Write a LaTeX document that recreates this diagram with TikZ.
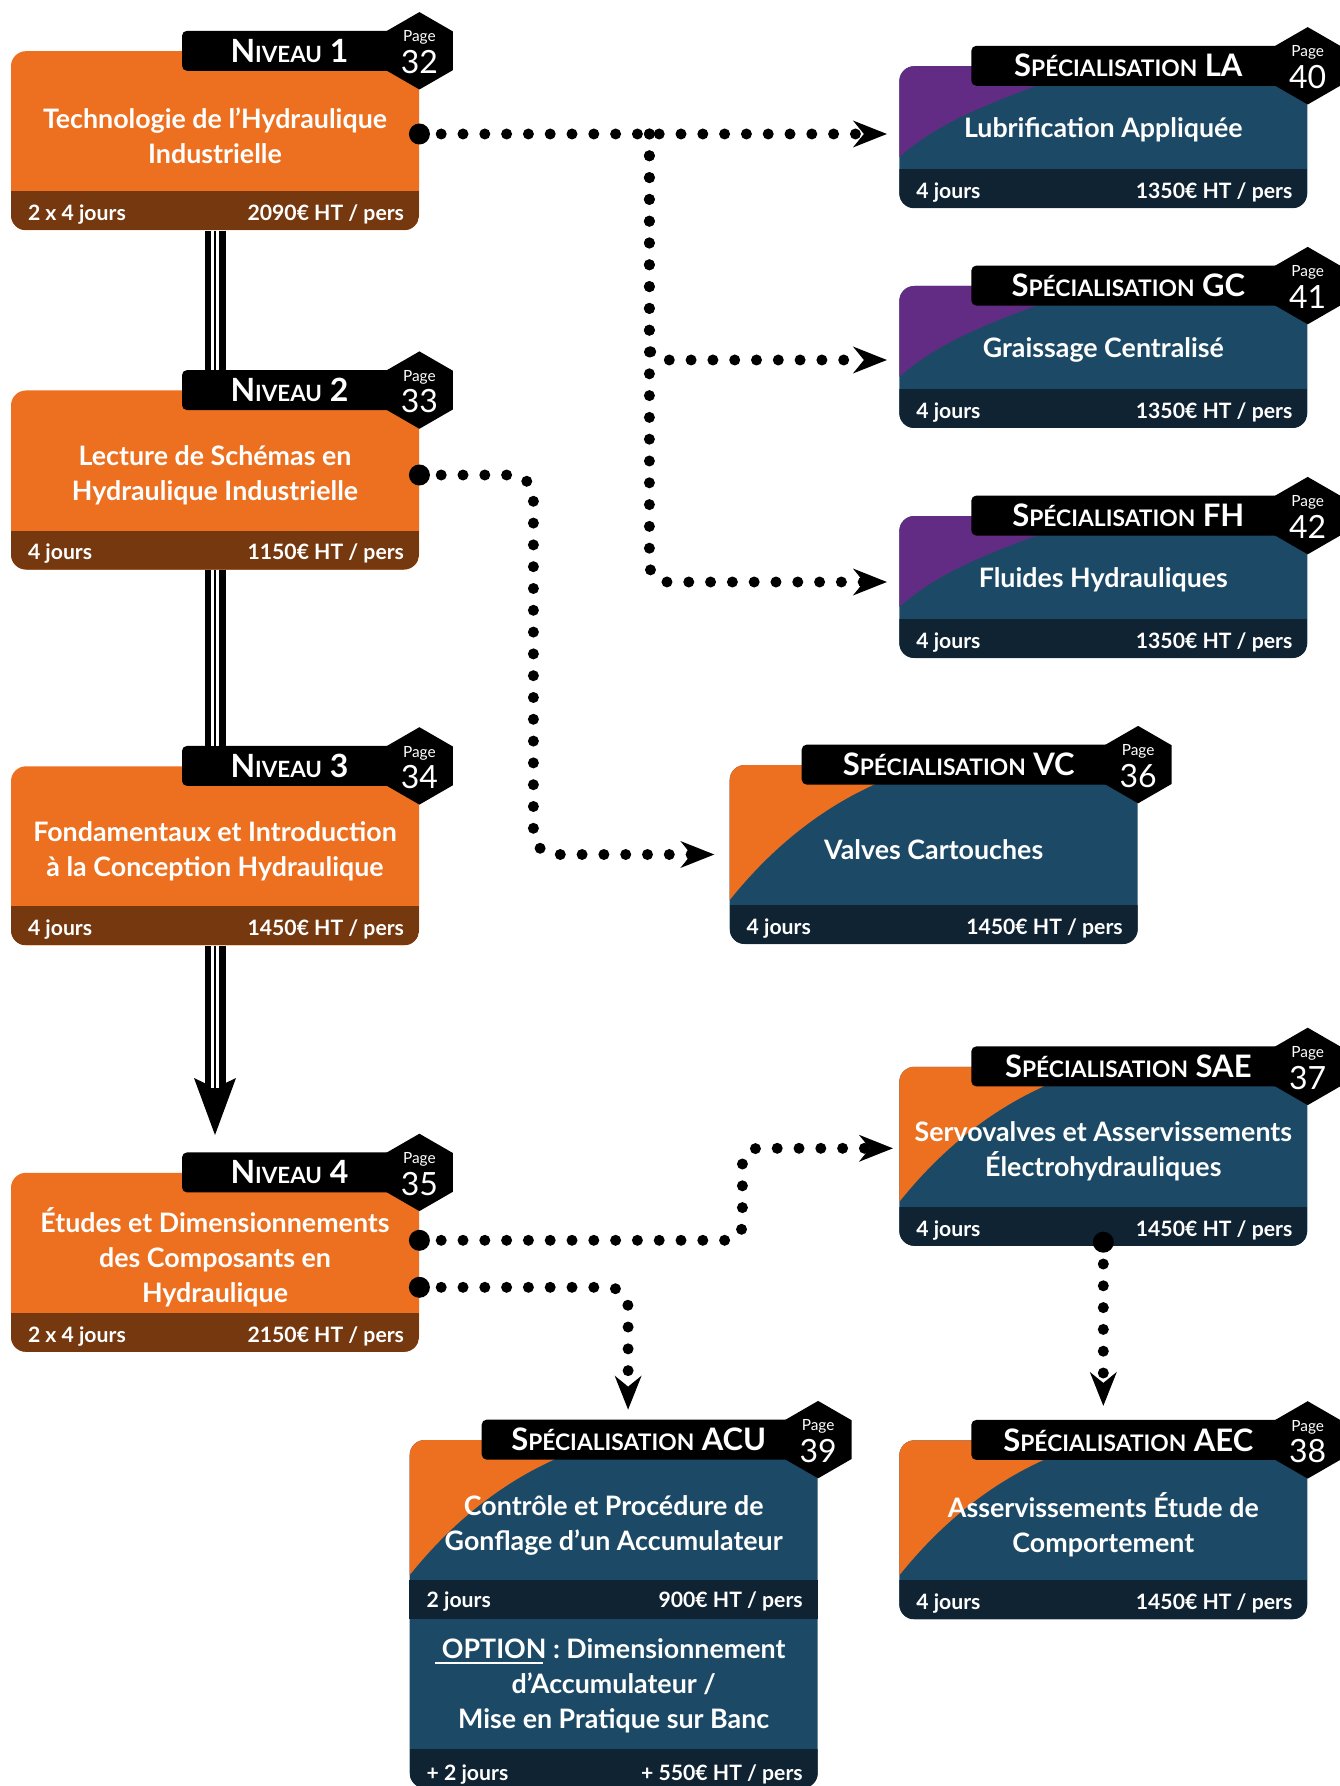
\documentclass[tikz,border=0pt]{standalone}
\usepackage{fontspec}
\setmainfont{Lato}
\usetikzlibrary{shapes.geometric, arrows.meta, positioning, calc}
\definecolor{niveauOrange}{RGB}{236,112,31}
\definecolor{niveauBrown}{RGB}{117,56,15}
\definecolor{specBlue}{RGB}{28,74,102}
\definecolor{specDark}{RGB}{16,35,50}
\definecolor{specPurple}{RGB}{98,44,132}
\newcommand{\petitcap}[2][11.2pt]{{\fontsize{#1}{#1}\selectfont #2}}

\begin{document}
\begin{tikzpicture}[
    x=0.5pt, y=-0.5pt,
    card/.style={rectangle, rounded corners=7.5pt, minimum width=204pt, minimum height=89.5pt, inner sep=0pt},
    niveau/.style={card, fill=niveauOrange,
        path picture={\fill[niveauBrown, sharp corners] (path picture bounding box.south west) rectangle ([yshift=19.5pt]path picture bounding box.south east);}},
    spec/.style={card, fill=specBlue,
        path picture={
            \fill[#1, sharp corners] ([yshift=-67.5pt]path picture bounding box.north west)
                .. controls ([shift={(30pt,-30pt)}]path picture bounding box.north west) and ([shift={(65pt,-9pt)}]path picture bounding box.north west)
                .. ([xshift=100pt]path picture bounding box.north west) -- (path picture bounding box.north west) -- cycle;
            \fill[specDark, sharp corners] (path picture bounding box.south west) rectangle ([yshift=19.5pt]path picture bounding box.south east);}},
    specshort/.style={card, fill=specBlue, minimum height=71pt,
        path picture={
            \fill[#1, sharp corners] ([yshift=-45.5pt]path picture bounding box.north west)
                .. controls ([shift={(22.5pt,-25pt)}]path picture bounding box.north west) and ([shift={(55pt,-15pt)}]path picture bounding box.north west)
                .. ([xshift=95pt]path picture bounding box.north west) -- (path picture bounding box.north west) -- cycle;
            \fill[specDark, sharp corners] (path picture bounding box.south west) rectangle ([yshift=19.5pt]path picture bounding box.south east);}},
    tab/.style={fill=black, rounded corners=2.5pt, minimum height=20pt, inner sep=0pt, anchor=west, text=white, font=\bfseries\fontsize{16pt}{16pt}\selectfont},
    niveautab/.style={tab, minimum width=107.5pt},
    spectab/.style={tab, minimum width=157pt, font=\bfseries\fontsize{15.5pt}{15.5pt}\selectfont},
    badge/.style={regular polygon, regular polygon sides=6, shape border rotate=30, minimum size=38.7pt, fill=black, inner sep=0pt, text=white, font=\fontsize{16pt}{16pt}\selectfont, text height=22.6pt, text depth=0pt, label={[pagelabel, label distance=-15.35pt]90:Page}},
    pagelabel/.style={text=white, font=\fontsize{7.7pt}{7.7pt}\selectfont, text depth=0pt, inner sep=0pt},
    title/.style={text=white, font=\bfseries\fontsize{13.4pt}{17.5pt}\selectfont, align=center, inner sep=0pt},
    strip/.style={text=white, font=\bfseries\fontsize{10.6pt}{10.6pt}\selectfont, inner sep=0pt},
    bigdot/.style={circle, fill=black, minimum size=10.5pt, inner sep=0pt},
    dotline/.style={line width=5.5pt, line cap=round, dash pattern=on 0pt off 10.9pt, -{Stealth[length=17pt, width=13.5pt, inset=5.5pt, line width=0pt]}},
    chain/.style={line width=10.5pt, postaction={draw, white, line width=4.2pt, -, shorten >=#1}, postaction={draw, black, line width=1.35pt, -, shorten >=#1}},
    chain/.default=0pt
]
\useasboundingbox (0,0) rectangle (1339,1786);
\fill[white] (0,0) rectangle (1339,1786);

% Niveaux
\node[niveau] (niv1) at (215,140.7) {};
\node[niveau] (niv2) at (215,480) {};
\node[niveau] (niv3) at (215,855.8) {};
\node[niveau] (niv4) at (215,1262.3) {};

% Specialisations
\node[specshort=specPurple] (la) at (1103.3,137.2) {};
\node[specshort=specPurple] (gc) at (1103.3,357) {};
\node[specshort=specPurple] (fh) at (1103.3,587) {};
\node[spec=niveauOrange] (vc) at (933.7,854.5) {};
\node[spec=niveauOrange] (sae) at (1103.3,1156.3) {};
\node[spec=niveauOrange] (aec) at (1103.3,1529.8) {};
\node[spec=niveauOrange, minimum height=174pt] (acu) at (613.7,1614) {};
\fill[specDark] ([yshift=-70pt]acu.north west) rectangle ([yshift=-89.5pt]acu.north east);

% Tabs and page badges
\node[niveautab] (niv1tab) at ([xshift=85.5pt]niv1.north west) {N\petitcap{IVEAU} 1};
\node[niveautab] (niv2tab) at ([xshift=85.5pt]niv2.north west) {N\petitcap{IVEAU} 2};
\node[niveautab] (niv3tab) at ([xshift=85.5pt]niv3.north west) {N\petitcap{IVEAU} 3};
\node[niveautab] (niv4tab) at ([xshift=85.5pt]niv4.north west) {N\petitcap{IVEAU} 4};
\node[spectab] (latab) at ([xshift=36pt]la.north west) {S\petitcap[11.4pt]{PÉCIALISATION} LA};
\node[spectab] (gctab) at ([xshift=36pt]gc.north west) {S\petitcap[11.4pt]{PÉCIALISATION} GC};
\node[spectab] (fhtab) at ([xshift=36pt]fh.north west) {S\petitcap[11.4pt]{PÉCIALISATION} FH};
\node[spectab] (vctab) at ([xshift=36pt]vc.north west) {S\petitcap[11.4pt]{PÉCIALISATION} VC};
\node[spectab] (saetab) at ([xshift=36pt]sae.north west) {S\petitcap[11.4pt]{PÉCIALISATION} SAE};
\node[spectab] (aectab) at ([xshift=36pt]aec.north west) {S\petitcap[11.4pt]{PÉCIALISATION} AEC};
\node[spectab] (acutab) at ([xshift=36pt]acu.north west) {S\petitcap[11.4pt]{PÉCIALISATION} ACU};

\node[badge] (niv1page) at (niv1.north east) {32};
\node[badge] (niv2page) at (niv2.north east) {33};
\node[badge] (niv3page) at (niv3.north east) {34};
\node[badge] (niv4page) at (niv4.north east) {35};
\node[badge] (lapage) at (la.north east) {40};
\node[badge] (gcpage) at (gc.north east) {41};
\node[badge] (fhpage) at (fh.north east) {42};
\node[badge] (vcpage) at (vc.north east) {36};
\node[badge] (saepage) at (sae.north east) {37};
\node[badge] (aecpage) at (aec.north east) {38};
\node[badge] (acupage) at (acu.north east) {39};

% Titles
\node[title] (niv1name) at ([yshift=-42.5pt]niv1.north) {Technologie de l’Hydraulique\\Industrielle};
\node[title] (niv2name) at ([yshift=-42.5pt]niv2.north) {Lecture de Schémas en\\Hydraulique Industrielle};
\node[title] (niv3name) at ([yshift=-42.5pt]niv3.north) {Fondamentaux et Introduction\\à la Conception Hydraulique};
\node[title] (niv4name) at ([yshift=-42.5pt]niv4.north) {Études et Dimensionnements\\des Composants en\\Hydraulique};
\node[title] (laname) at ([yshift=-32pt]la.north) {Lubrification Appliquée};
\node[title] (gcname) at ([yshift=-32pt]gc.north) {Graissage Centralisé};
\node[title] (fhname) at ([yshift=-32pt]fh.north) {Fluides Hydrauliques};
\node[title] (vcname) at ([yshift=-42.5pt]vc.north) {Valves Cartouches};
\node[title] (saename) at ([yshift=-42.5pt]sae.north) {Servovalves et Asservissements\\Électrohydrauliques};
\node[title] (aecname) at ([yshift=-42.5pt]aec.north) {Asservissements Étude de\\Comportement};
\node[title] (acuname) at ([yshift=-43pt]acu.north) {Contrôle et Procédure de\\Gonflage d’un Accumulateur};
\node[title] (acuoption) at ([yshift=-123pt]acu.north) {\makebox[0pt][l]{\hspace{-3.5pt}\rule[-2.8pt]{54pt}{1pt}}OPTION : Dimensionnement\\d’Accumulateur /\\Mise en Pratique sur Banc};

% Durations and prices
\node[strip, anchor=base west] (niv1days) at ([shift={(8.5pt,5pt)}]niv1.south west) {2 x 4 jours};
\node[strip, anchor=base east] (niv1price) at ([shift={(-7.5pt,5pt)}]niv1.south east) {2090€ HT / pers};
\node[strip, anchor=base west] (niv2days) at ([shift={(8.5pt,5pt)}]niv2.south west) {4 jours};
\node[strip, anchor=base east] (niv2price) at ([shift={(-7.5pt,5pt)}]niv2.south east) {1150€ HT / pers};
\node[strip, anchor=base west] (niv3days) at ([shift={(8.5pt,5pt)}]niv3.south west) {4 jours};
\node[strip, anchor=base east] (niv3price) at ([shift={(-7.5pt,5pt)}]niv3.south east) {1450€ HT / pers};
\node[strip, anchor=base west] (niv4days) at ([shift={(8.5pt,5pt)}]niv4.south west) {2 x 4 jours};
\node[strip, anchor=base east] (niv4price) at ([shift={(-7.5pt,5pt)}]niv4.south east) {2150€ HT / pers};
\node[strip, anchor=base west] (ladays) at ([shift={(8.5pt,5pt)}]la.south west) {4 jours};
\node[strip, anchor=base east] (laprice) at ([shift={(-7.5pt,5pt)}]la.south east) {1350€ HT / pers};
\node[strip, anchor=base west] (gcdays) at ([shift={(8.5pt,5pt)}]gc.south west) {4 jours};
\node[strip, anchor=base east] (gcprice) at ([shift={(-7.5pt,5pt)}]gc.south east) {1350€ HT / pers};
\node[strip, anchor=base west] (fhdays) at ([shift={(8.5pt,5pt)}]fh.south west) {4 jours};
\node[strip, anchor=base east] (fhprice) at ([shift={(-7.5pt,5pt)}]fh.south east) {1350€ HT / pers};
\node[strip, anchor=base west] (vcdays) at ([shift={(8.5pt,5pt)}]vc.south west) {4 jours};
\node[strip, anchor=base east] (vcprice) at ([shift={(-7.5pt,5pt)}]vc.south east) {1450€ HT / pers};
\node[strip, anchor=base west] (saedays) at ([shift={(8.5pt,5pt)}]sae.south west) {4 jours};
\node[strip, anchor=base east] (saeprice) at ([shift={(-7.5pt,5pt)}]sae.south east) {1450€ HT / pers};
\node[strip, anchor=base west] (aecdays) at ([shift={(8.5pt,5pt)}]aec.south west) {4 jours};
\node[strip, anchor=base east] (aecprice) at ([shift={(-7.5pt,5pt)}]aec.south east) {1450€ HT / pers};
\node[strip, anchor=base west] (acudays) at ([shift={(8.5pt,-84pt)}]acu.north west) {2 jours};
\node[strip, anchor=base east] (acuprice) at ([shift={(-7.5pt,-84pt)}]acu.north east) {900€ HT / pers};
\node[strip, anchor=base west] (optdays) at ([shift={(8.5pt,4pt)}]acu.south west) {+ 2 jours};
\node[strip, anchor=base east] (optprice) at ([shift={(-7.5pt,4pt)}]acu.south east) {+ 550€ HT / pers};

% Niveau chain
\draw[chain] (niv1.south) -- (niv1.south |- niv2tab.north);
\draw[chain] (niv2.south) -- (niv2.south |- niv3tab.north);
\draw[chain=23.5pt, -{Stealth[length=28.5pt, width=21pt, inset=5pt, line width=0pt]}] (niv3.south) -- ([yshift=8.5pt]niv3.south |- niv4tab.north);

% Dotted links
\node[bigdot] (d1) at ([yshift=3.35pt]niv1.east) {};
\node[bigdot] (d2) at ([yshift=2.5pt]niv2.east) {};
\node[bigdot] (d3) at ([yshift=11pt]niv4.east) {};
\node[bigdot] (d4) at ([yshift=-12.5pt]niv4.east) {};
\node[bigdot] (d5) at ([yshift=2pt]sae.south) {};
\coordinate (split) at ([xshift=115pt]d1.center);

\draw[dotline, shorten >=6pt] (d1.center) -- (d1 -| la.west);
\draw[dotline, rounded corners=7pt, shorten >=6pt] (split) |- ([yshift=-1.5pt]gc.west);
\draw[dotline, rounded corners=9pt, shorten >=6pt] (split) |- ([yshift=2.5pt]fh.west);
\draw[dotline, rounded corners=11pt, shorten >=7.5pt] (d2.center) -- ++(114,0) |- (vc.west);
\draw[dotline, rounded corners=8pt, shorten >=3pt] (d3.center) -- ++(323,0) |- ([yshift=4pt]sae.west);
\draw[dotline, rounded corners=10pt, shorten >=15pt] (d4.center) -| ([xshift=7.2pt]acu.north);
\draw[dotline, shorten >=17pt] (d5.center) -- (aec.north);
\end{tikzpicture}
\end{document}
